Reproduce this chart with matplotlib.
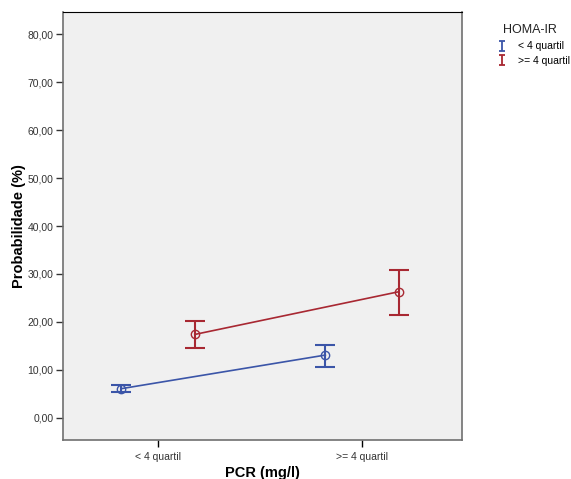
import numpy as np
import matplotlib.pyplot as plt
from matplotlib.ticker import FuncFormatter

plt.rcParams['font.family'] = ['Liberation Sans', 'DejaVu Sans']

categories = ['< 4 quartil', '>= 4 quartil']
groups = ['< 4 quartil', '>= 4 quartil']

low_mean = [6.1, 13.1]
low_lower = [5.4, 10.7]
low_upper = [6.8, 15.3]

high_mean = [17.4, 26.3]
high_lower = [14.5, 21.5]
high_upper = [20.2, 30.9]

colors = ['#3B55A8', '#A82832']
offsets = [-0.18, 0.18]

fig = plt.figure(figsize=(5.71, 4.79), dpi=100)
ax = fig.add_axes([63 / 571, 39 / 479, 399 / 571, 428 / 479])
ax.set_facecolor('#F0F0F0')

x = np.arange(len(categories))
series = [(low_mean, low_lower, low_upper), (high_mean, high_lower, high_upper)]
handles = []
for (mean, lo, hi), col, off, name in zip(series, colors, offsets, groups):
    mean = np.array(mean)
    yerr = [mean - np.array(lo), np.array(hi) - mean]
    xs = x + off
    ax.plot(xs, mean, color=col, lw=1.2, marker='o', ms=6, mfc='none', mec=col, mew=1)
    ax.errorbar(xs, mean, yerr=yerr, fmt='none', ecolor=col, elinewidth=1.5,
                capsize=7, capthick=1.5)
    # small proxy for the legend icon
    proxy = ax.errorbar([np.nan], [np.nan], yerr=[[1], [1]], fmt='none', ecolor=col,
                        elinewidth=1.3, capsize=2.5, capthick=1.3, label=name)
    handles.append(proxy)

ax.set_xlim(-0.466, 1.49)
ax.set_ylim(-4.6, 84.6)
ax.set_xticks(x)
ax.set_xticklabels(categories, fontsize=7.5, color='#333333')
ax.set_yticks(np.arange(0, 81, 10))
ax.yaxis.set_major_formatter(FuncFormatter(lambda v, p: f'{v:.2f}'.replace('.', ',')))
ax.tick_params(axis='y', labelsize=7.5, colors='#333333', length=5, width=1, pad=2)
ax.tick_params(axis='x', length=5, width=1)

for side in ['left', 'bottom', 'right']:
    ax.spines[side].set_color('#707070')
    ax.spines[side].set_linewidth(1.2)
ax.spines['top'].set_color('#000000')

ax.set_ylabel('Probabilidade (%)', fontsize=10.5, fontweight='bold', labelpad=1)
ax.set_xlabel('PCR (mg/l)', fontsize=10.5, fontweight='bold', labelpad=3)

fig.text(503 / 571, 1 - 30 / 479, 'HOMA-IR', fontsize=9, color='#222222',
         ha='left', va='center')
fig.legend(handles=handles, loc='upper left',
           bbox_to_anchor=(489 / 571, 1 - 32 / 479), frameon=False,
           fontsize=7.5, handlelength=0.6, handletextpad=1.3, labelspacing=0.42)

fig.savefig('out.png', dpi=100)
